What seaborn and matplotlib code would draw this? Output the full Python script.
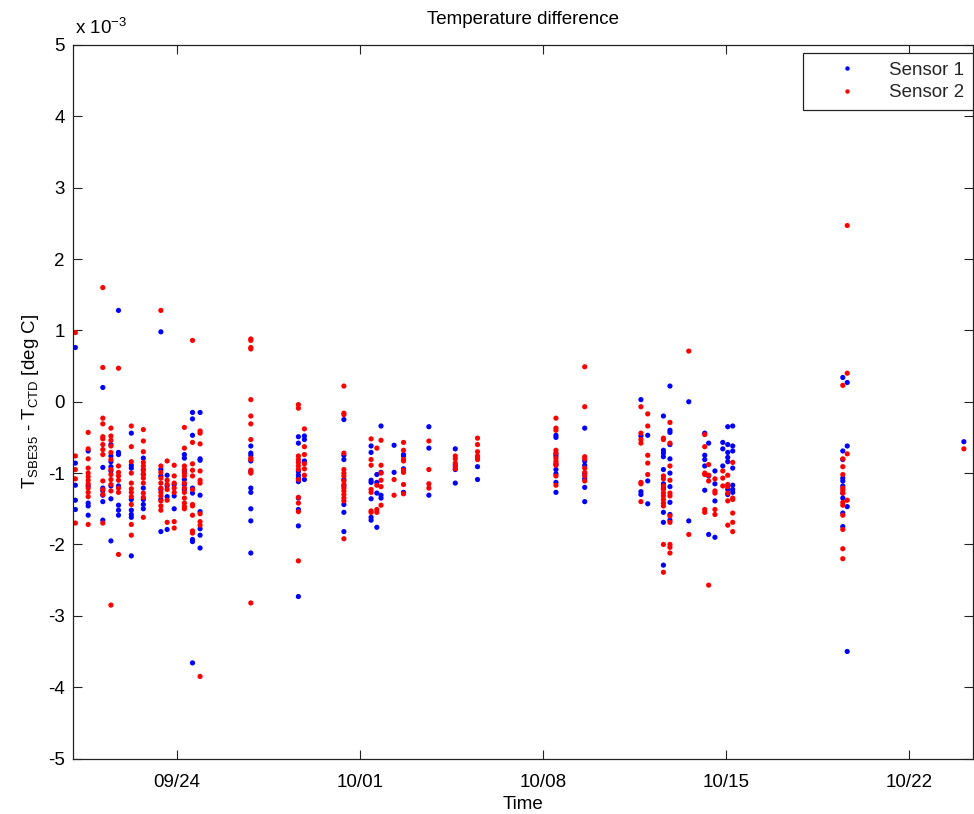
import numpy as np
import pandas as pd
import matplotlib
matplotlib.use("Agg")
import matplotlib.pyplot as plt
import matplotlib.dates as mdates
import seaborn as sns

# ---------------- data (temperature difference, units of 1e-3 deg C) ----------------
base_date = "2011-09-24"
# cast times, in days relative to 09/24
cast_days = [-3.88, -3.39, -2.83, -2.52, -2.23, -1.74, -1.28, -0.61, -0.37, -0.10,
             0.29, 0.60, 0.89, 2.83, 4.65, 4.88, 6.39, 7.43, 7.65, 7.81,
             8.31, 8.67, 9.64, 10.65, 11.50, 14.50, 15.60, 17.75, 18.01, 18.61,
             18.86, 19.58, 20.19, 20.34, 20.58, 20.88, 21.07, 21.26, 25.47, 25.64,
             30.10]

sensor1 = [
    [0.76, -0.86, -1.17, -1.38, -1.51],
    [-0.69, -1.18, -1.42, -1.46, -1.59],
    [0.20, -0.92, -1.21, -1.25, -1.31, -1.40, -1.66],
    [-0.60, -0.76, -0.84, -0.91, -0.97, -1.18, -1.36, -1.95],
    [1.28, -0.71, -0.74, -1.18, -1.45, -1.52, -1.59],
    [-0.44, -0.89, -0.93, -1.37, -1.52, -1.58, -1.62, -2.16],
    [-0.79, -0.95, -1.02, -1.21, -1.37, -1.44, -1.50],
    [0.98, -0.95, -1.04, -1.23, -1.37, -1.82],
    [-1.03, -1.18, -1.33, -1.79],
    [-1.16, -1.32, -1.50],
    [-0.74, -0.79, -0.97, -1.09, -1.16, -1.23],
    [-0.15, -0.24, -0.47, -1.21, -1.28, -1.93, -1.96, -3.66],
    [-0.15, -0.80, -0.82, -1.31, -1.54, -1.78, -1.87, -2.05],
    [-0.62, -0.72, -0.75, -0.83, -0.98, -1.21, -1.27, -1.50, -1.67, -2.12],
    [-0.49, -0.58, -0.98, -1.03, -1.07, -1.12, -1.35, -1.51, -1.74, -2.73],
    [-0.48, -0.53, -0.83, -1.09],
    [-0.25, -0.75, -0.81, -1.09, -1.18, -1.44, -1.55, -1.82],
    [-0.62, -0.71, -1.10, -1.13, -1.36, -1.62, -1.66],
    [-1.02, -1.13, -1.28, -1.76],
    [-0.34, -0.99, -1.31, -1.35],
    [-0.61, -0.99],
    [-0.74, -0.76, -0.94, -1.27],
    [-0.35, -0.65, -1.31],
    [-0.66, -0.89, -0.95, -1.14],
    [-0.91, -1.09],
    [-0.47, -0.50, -0.73, -0.76, -0.88, -0.95, -1.01, -1.13, -1.27],
    [-0.37, -0.83, -0.89, -1.01, -1.08, -1.20, -1.40],
    [0.03, -0.48, -1.26, -1.30],
    [-0.47, -1.11, -1.43],
    [-0.20, -0.68, -0.72, -0.77, -0.95, -1.15, -1.21, -1.55, -1.69, -2.29],
    [0.22, -0.40, -0.43, -0.60, -0.80, -1.00, -1.19, -1.41, -1.58, -1.66],
    [0.00, -1.67],
    [-0.44, -0.75, -0.81, -0.90, -1.24],
    [-0.58, -1.04, -1.86],
    [-0.97, -1.15, -1.39, -1.90],
    [-0.57, -0.66, -0.90],
    [-0.35, -0.60, -0.71, -0.78, -0.84, -1.23, -1.30],
    [-0.34, -0.62, -0.69, -0.93, -1.17, -1.23, -1.27],
    [0.34, -0.69, -0.81, -1.07, -1.11, -1.18, -1.28, -1.35, -1.56, -1.75],
    [0.27, -0.62, -1.47, -3.50],
    [-0.56],
]

sensor2 = [
    [0.97, -0.76, -0.95, -1.08, -1.70],
    [-0.43, -0.66, -0.80, -0.93, -1.00, -1.05, -1.10, -1.15, -1.21, -1.27, -1.33, -1.72],
    [1.60, 0.48, -0.23, -0.31, -0.49, -0.52, -0.60, -0.67, -0.74, -1.11, -1.23, -1.30, -1.70],
    [-0.37, -0.48, -0.54, -0.62, -0.71, -0.81, -0.95, -1.02, -1.09, -1.16, -1.25, -2.85],
    [0.47, -0.90, -0.99, -1.04, -1.10, -1.21, -1.27, -2.14],
    [-0.34, -0.63, -0.84, -1.00, -1.14, -1.22, -1.27, -1.33, -1.44, -1.72, -1.87],
    [-0.39, -0.55, -0.70, -0.85, -0.90, -0.96, -1.01, -1.07, -1.14, -1.28, -1.34, -1.62],
    [1.28, -0.90, -0.99, -1.07, -1.14, -1.21, -1.27, -1.32, -1.39, -1.46, -1.52],
    [-0.83, -1.10, -1.16, -1.23, -1.38, -1.69],
    [-0.89, -1.04, -1.14, -1.21, -1.27, -1.68, -1.77],
    [-0.36, -0.65, -0.90, -0.95, -1.00, -1.04, -1.14, -1.21, -1.27, -1.35, -1.42, -1.47, -1.50],
    [0.86, -0.57, -0.87, -0.96, -1.04, -1.23, -1.44, -1.46, -1.59, -1.81, -1.84],
    [-0.41, -0.44, -0.59, -0.97, -1.10, -1.14, -1.57, -1.68, -1.73, -3.85],
    [0.88, 0.86, 0.76, 0.74, 0.03, -0.20, -0.31, -0.53, -0.79, -0.81, -0.96, -1.00, -2.82],
    [-0.04, -0.09, -0.76, -0.81, -0.85, -0.90, -0.95, -1.09, -1.34, -1.42, -1.54, -2.23],
    [-0.38, -0.63, -0.74, -0.87, -0.94, -1.03],
    [0.22, -0.16, -0.18, -0.72, -0.95, -1.00, -1.04, -1.11, -1.16, -1.21, -1.25, -1.30, -1.35, -1.39, -1.92],
    [-0.52, -0.81, -0.89, -1.23, -1.27, -1.53, -1.55],
    [-0.65, -1.17, -1.51, -1.55],
    [-0.54, -0.89, -1.00, -1.10, -1.19, -1.45],
    [-1.09, -1.31],
    [-0.57, -0.68, -0.81, -0.83, -0.96, -0.99, -1.16, -1.29],
    [-0.55, -0.95, -1.15, -1.21],
    [-0.76, -0.80, -0.86, -0.91, -0.94],
    [-0.51, -0.60, -0.70, -0.76, -0.79, -0.81],
    [-0.23, -0.37, -0.40, -0.68, -0.72, -0.79, -0.83, -0.86, -0.89, -1.04, -1.17],
    [0.49, -0.07, -0.77, -0.80, -0.93, -0.99, -1.04, -1.11],
    [-0.07, -0.44, -0.53, -0.58, -1.13, -1.15, -1.40],
    [-0.17, -0.34, -0.75, -0.86, -1.02],
    [-0.51, -0.53, -1.04, -1.08, -1.18, -1.23, -1.28, -1.32, -1.37, -1.42, -1.46, -2.00, -2.39],
    [-0.29, -0.58, -0.90, -1.10, -1.28, -1.32, -1.60, -1.69, -2.00, -2.04, -2.12],
    [0.71, -1.86],
    [-0.46, -0.63, -1.00, -1.02, -1.51, -1.55],
    [-0.88, -1.03, -1.11, -2.57],
    [-1.08, -1.25, -1.28, -1.51, -1.58],
    [-0.97, -1.07, -1.18],
    [-1.03, -1.16, -1.19, -1.28, -1.39, -1.73],
    [-0.85, -1.35, -1.37, -1.56, -1.69, -1.82],
    [0.23, -0.80, -0.91, -1.02, -1.21, -1.24, -1.28, -1.41, -1.45, -1.59, -1.79, -2.06, -2.20],
    [2.47, 0.40, -0.73, -1.38],
    [-0.66],
]

series_names = ["Sensor 1", "Sensor 2"]
series_colors = ["#0000ff", "#ff0000"]
x_tick_days = [0, 7, 14, 21, 28]
x_tick_labels = ["09/24", "10/01", "10/08", "10/15", "10/22"]
y_ticks = [-5, -4, -3, -2, -1, 0, 1, 2, 3, 4, 5]

# ---------------- build long table ----------------
base = pd.Timestamp(base_date)
rows = []
for name, series in zip(series_names, [sensor1, sensor2]):
    for d, vals in zip(cast_days, series):
        for v in vals:
            rows.append({"Time": base + pd.Timedelta(days=d), "dT": v, "Sensor": name})
df = pd.DataFrame(rows)

# ---------------- plot ----------------
sns.set_theme(style="white")
plt.rcParams["font.family"] = ["Liberation Sans", "DejaVu Sans"]
plt.rcParams["mathtext.fontset"] = "custom"
plt.rcParams["mathtext.rm"] = "Liberation Sans"
plt.rcParams["mathtext.it"] = "Liberation Sans:italic"

fs = 13.5
fig = plt.figure(figsize=(9.74, 8.14), dpi=100)
ax = fig.add_axes([73 / 974, 1 - 758.5 / 814, 900 / 974, 713.5 / 814])

sns.scatterplot(data=df, x="Time", y="dT", hue="Sensor",
                palette=dict(zip(series_names, series_colors)),
                s=14, linewidth=0, edgecolor="none", ax=ax, legend=False)

ax.set_xlim(base + pd.Timedelta(days=-3.97), base + pd.Timedelta(days=30.45))
ax.set_ylim(-5, 5)
ax.set_xticks([base + pd.Timedelta(days=d) for d in x_tick_days])
ax.set_xticklabels(x_tick_labels)
ax.set_yticks(y_ticks)
ax.set_yticklabels([str(t) for t in y_ticks])

for sp in ax.spines.values():
    sp.set_visible(True)
    sp.set_color("#222222")
    sp.set_linewidth(0.9)

ax.tick_params(axis="both", which="major", direction="in", length=6.5, width=0.8,
               color="#222222", labelsize=fs, labelcolor="black",
               top=True, right=True, bottom=True, left=True)
ax.tick_params(axis="x", pad=11.5)
ax.tick_params(axis="y", pad=6)

ax.set_title("Temperature difference", fontsize=fs, pad=15, color="black")
ax.set_xlabel("Time", fontsize=fs, labelpad=3, color="black")
ax.set_ylabel(r"T$_{\mathrm{SBE35}}$ - T$_{\mathrm{CTD}}$ [deg C]", fontsize=fs,
              labelpad=5, color="black")

ax.text(0.002, 1 + 11 / 713.5, r"x 10$^{-3}$", transform=ax.transAxes,
        ha="left", va="baseline", fontsize=fs, color="black")

handles = [plt.Line2D([], [], marker="o", linestyle="none", markersize=3.2,
                      markerfacecolor=c, markeredgecolor="none") for c in series_colors]
leg = ax.legend(handles, series_names, loc="upper right",
                bbox_to_anchor=(1.0, 1 - 8 / 713.5), borderaxespad=0,
                fontsize=fs, frameon=True, fancybox=False, framealpha=1,
                edgecolor="#222222", borderpad=0.45, handlelength=3.8,
                handletextpad=0.35, labelspacing=0.3)
leg.get_frame().set_linewidth(0.9)

fig.savefig("out.png", dpi=100, facecolor="white")
